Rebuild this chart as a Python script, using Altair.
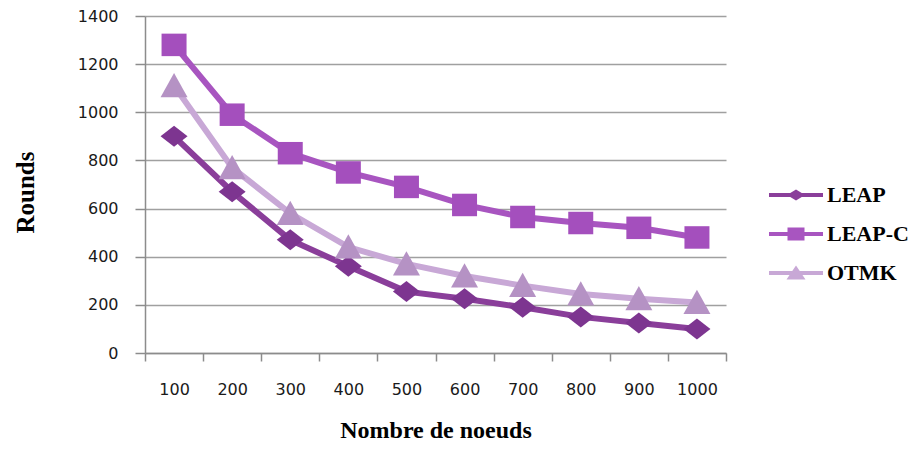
import altair as alt
import pandas as pd

nodes = ["100", "200", "300", "400", "500", "600", "700", "800", "900", "1000"]
series_names = ["LEAP", "LEAP-C", "OTMK"]
leap = [900, 670, 470, 360, 255, 225, 190, 150, 125, 100]
leap_c = [1280, 990, 830, 750, 690, 615, 565, 540, 520, 480]
otmk = [1110, 770, 580, 440, 370, 320, 280, 245, 225, 210]
y_ticks = [0, 200, 400, 600, 800, 1000, 1200, 1400]

line_colors = ["#8A3E9A", "#A855C0", "#C8A8D6"]
marker_colors = ["#7D3590", "#A44FBD", "#B592C4"]

marker_paths = [
    "M-1.08,0L0,-0.84L1.08,0L0,0.84Z",
    "M-1,-0.9H1V0.9H-1Z",
    "M0,-1.02L1.08,0.92H-1.08Z",
]
legend_paths = [
    "M-2.7,-0.2H2.7V0.2H-2.7Z M-0.9,0L0,-0.55L0.9,0L0,0.55Z",
    "M-2.7,-0.2H2.7V0.2H-2.7Z M-0.85,-0.65H0.85V0.65H-0.85Z",
    "M-2.7,-0.2H2.7V0.2H-2.7Z M0,-0.75L0.95,0.65H-0.95Z",
]

rows = []
for name, vals in zip(series_names, [leap, leap_c, otmk]):
    for n, v in zip(nodes, vals):
        rows.append({"nodes": n, "rounds": v, "series": name})
df = pd.DataFrame(rows)

W, H = 581, 337

x_enc = alt.X(
    "nodes:N",
    sort=nodes,
    scale=alt.Scale(type="band", paddingInner=0, paddingOuter=0),
    axis=alt.Axis(
        title="Nombre de noeuds",
        tickBand="extent",
        labelAngle=0,
        labelFont="DejaVu Sans",
        labelFontSize=16,
        labelColor="#1a1a1a",
        labelPadding=20,
        tickSize=8,
        tickColor="#8c8c8c",
        tickWidth=1.5,
        domainColor="#8c8c8c",
        domainWidth=1.5,
        grid=False,
        titleFont="Liberation Serif",
        titleFontSize=24,
        titleFontWeight="bold",
        titleColor="#000000",
        titleX=W / 2,
        titleY=77,
        titleBaseline="middle",
    ),
)
y_enc = alt.Y(
    "rounds:Q",
    scale=alt.Scale(domain=[0, 1400], nice=False),
    axis=alt.Axis(
        title="Rounds",
        values=y_ticks,
        format="d",
        labelFont="DejaVu Sans",
        labelFontSize=16,
        labelColor="#1a1a1a",
        labelPadding=17,
        tickSize=10,
        tickColor="#8c8c8c",
        tickWidth=1.5,
        domainColor="#8c8c8c",
        domainWidth=1.5,
        gridColor="#a0a0a0",
        gridWidth=1.5,
        titleFont="Liberation Serif",
        titleFontSize=25,
        titleFontWeight="bold",
        titleColor="#000000",
        titleX=-120,
        titleY=176,
        titleAngle=-90,
        titleBaseline="middle",
    ),
)

base = alt.Chart(df)

lines = base.mark_line(strokeWidth=6).encode(
    x=x_enc,
    y=y_enc,
    color=alt.Color(
        "series:N",
        scale=alt.Scale(domain=series_names, range=line_colors),
        legend=None,
    ),
    detail="series:N",
)

points = base.mark_point(filled=True, opacity=1, size=625).encode(
    x=x_enc,
    y=y_enc,
    color=alt.Color(
        "series:N",
        scale=alt.Scale(domain=series_names, range=marker_colors),
        legend=None,
    ),
    shape=alt.Shape(
        "series:N",
        scale=alt.Scale(domain=series_names, range=marker_paths),
        legend=None,
    ),
)

legend_props = dict(
    title=None,
    labelFont="Liberation Serif",
    labelFontSize=22,
    labelFontWeight="bold",
    labelColor="#000000",
)

legend_layer = base.mark_point(filled=True, opacity=0, size=400).encode(
    x=x_enc,
    y=y_enc,
    color=alt.Color(
        "series:N",
        scale=alt.Scale(domain=series_names, range=line_colors),
        legend=alt.Legend(**legend_props),
    ),
    shape=alt.Shape(
        "series:N",
        scale=alt.Scale(domain=series_names, range=legend_paths),
        legend=alt.Legend(**legend_props),
    ),
)

chart = (
    alt.layer(lines, points, legend_layer)
    .resolve_scale(color="independent", shape="independent")
    .properties(
        width=W,
        height=H,
        autosize=alt.AutoSizeParams(type="none"),
        padding={"left": 137, "top": 8, "right": 186, "bottom": 92},
    )
    .configure_view(stroke=None)
    .configure_legend(
        orient="none",
        legendX=640,
        legendY=168,
        padding=0,
        labelFont="Liberation Serif",
        labelFontSize=22,
        labelFontWeight="bold",
        labelColor="#000000",
        symbolSize=400,
        symbolStrokeWidth=0,
        symbolOpacity=1,
        rowPadding=17,
        labelOffset=20,
    )
)

chart.save("out.html", embed_options={"renderer": "svg", "actions": False})
